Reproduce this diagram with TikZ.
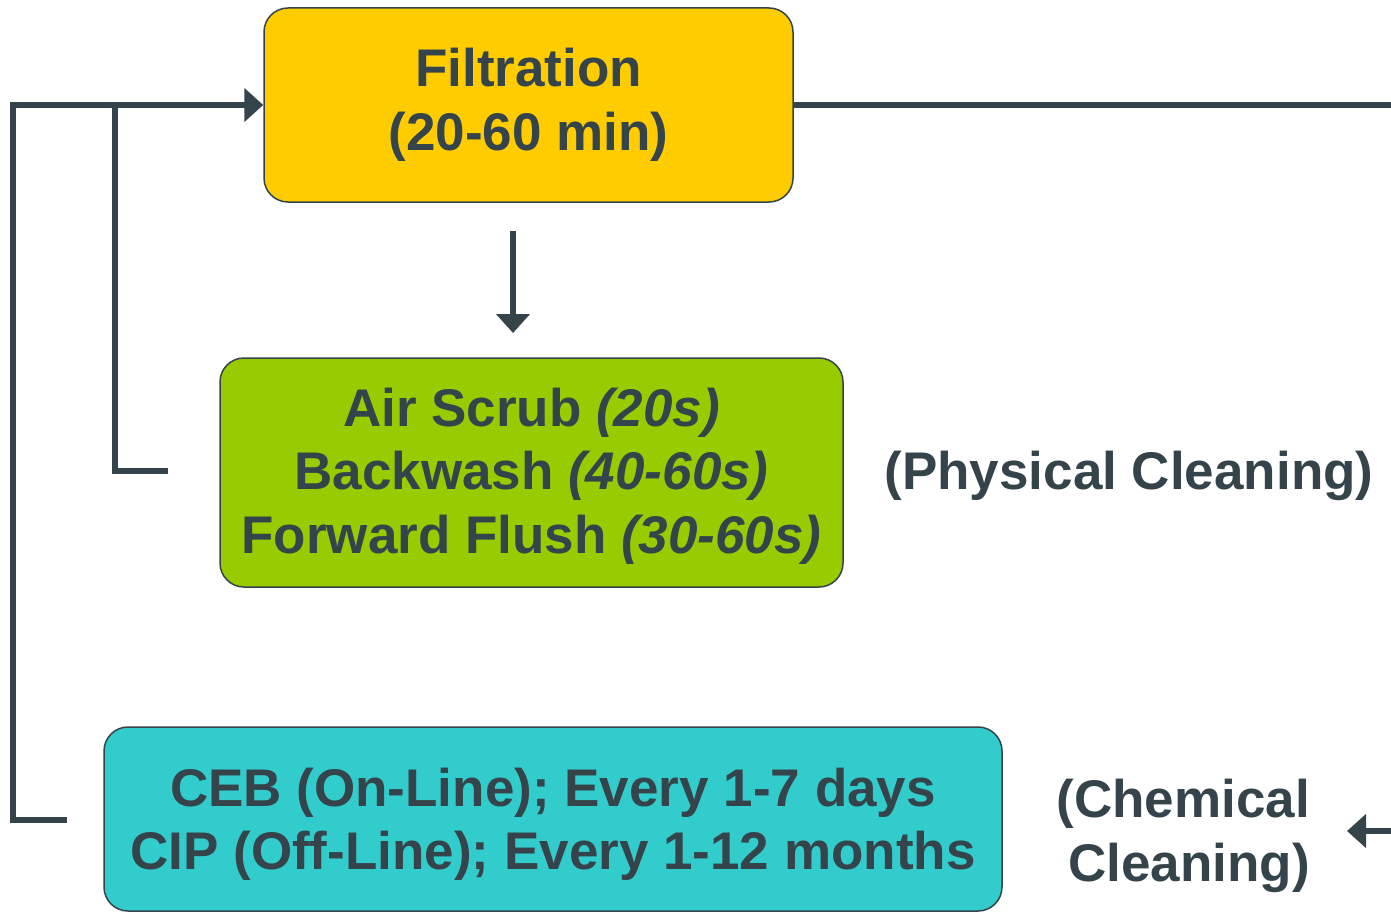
\documentclass[tikz,border=0pt]{standalone}
\usepackage{fontspec}
\setmainfont{Liberation Sans}
\usetikzlibrary{arrows.meta}
\definecolor{ink}{HTML}{34444A}
\definecolor{fyel}{HTML}{FFCC00}
\definecolor{fgrn}{HTML}{99CC00}
\definecolor{fcyan}{HTML}{33CCCC}
\begin{document}
\begin{tikzpicture}[x=1pt,y=-1pt,
  box/.style={draw=ink, line width=1.5pt, rounded corners=24pt, font=\fontsize{53}{63.5}\selectfont\bfseries, text=ink, align=center, inner sep=0pt},
  lab/.style={font=\fontsize{53}{63.5}\selectfont\bfseries, text=ink, align=center, inner sep=0pt},
  flow/.style={draw=ink, line width=6pt, line join=miter},
  tip/.style={-{Triangle[length=19pt,width=33pt]}}]
\useasboundingbox (0,0) rectangle (1391,912);
\node[box, fill=fyel, minimum width=529pt, minimum height=194pt] (filt) at (528.5,105) {Filtration\\(20-60 min)};
\node[box, fill=fgrn, minimum width=623pt, minimum height=229pt, text depth=4pt] (phy) at (531.5,472.5) {Air Scrub \textit{(20s)}\\Backwash \textit{(40-60s)}\\Forward Flush \textit{(30-60s)}};
\node[box, fill=fcyan, minimum width=898pt, minimum height=184pt, text depth=-2pt] (chm) at (553,819) {CEB (On-Line); Every 1-7 days\\CIP (Off-Line); Every 1-12 months};
\node[lab] (physlab) at (1129,476) {(Physical Cleaning)};
\node[lab, align=right, anchor=east] (chemlab) at (1310,836) {(Chemical\\Cleaning)};
\coordinate (c1) at (67,820);
\coordinate (c2) at (168,471);
\coordinate (d1) at (513,231);
\coordinate (d2) at (513,333);
\coordinate (r1) at (1395,105);
\coordinate (e1) at (1395,831);
\coordinate (e2) at (1347,831);
\draw[flow, tip] (c1) -- (13,820) |- (filt.west);
\draw[flow] (c2) -| (115,105);
\draw[flow, tip] (d1) -- (d2);
\draw[flow] (filt.east) -- (r1);
\draw[flow, tip] (e1) -- (e2);
\end{tikzpicture}
\end{document}
